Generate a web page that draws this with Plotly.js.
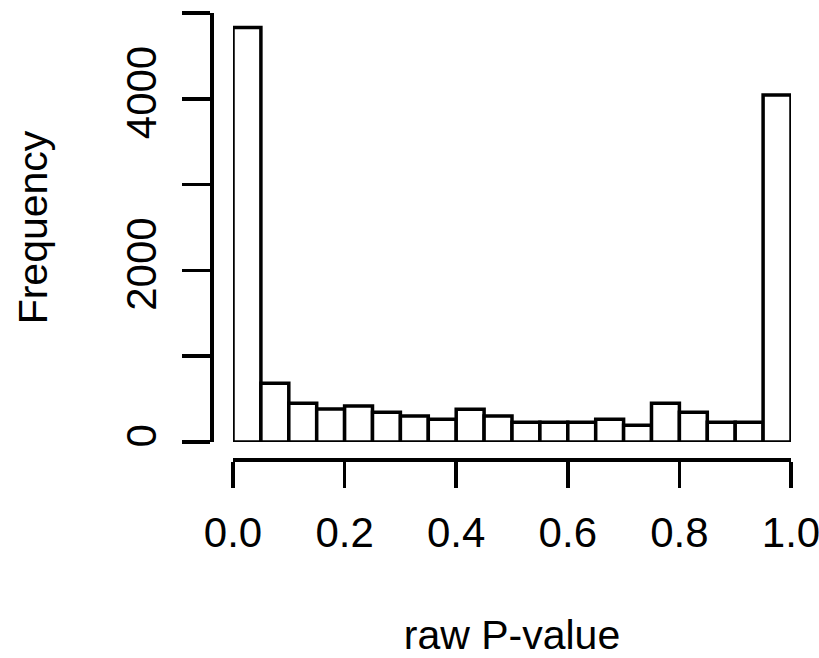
<!DOCTYPE html>
<html>
<head>
<meta charset="utf-8">
<script src="https://cdn.plot.ly/plotly-3.0.1.min.js"></script>
<style>html,body{margin:0;padding:0;background:#fff;}#chart{width:819px;height:658px;}</style>
</head>
<body>
<div id="chart"></div>
<script>
// Histogram of raw P-values: 20 bins of width 0.05 over [0, 1]
const binStarts = [0.00,0.05,0.10,0.15,0.20,0.25,0.30,0.35,0.40,0.45,0.50,0.55,0.60,0.65,0.70,0.75,0.80,0.85,0.90,0.95];
const binWidth = 0.05;
const counts = [4830,685,451,385,420,346,303,265,381,303,230,230,230,265,195,451,346,230,230,4045];
const xTickVals = [0,0.2,0.4,0.6,0.8,1.0];
const xTickText = ['0.0','0.2','0.4','0.6','0.8','1.0'];
const yTickVals = [0,1000,2000,3000,4000,5000];
const yTickText = ['0','','2000','','4000',''];

const fontFam = '"Liberation Sans Narrow","Arial Narrow","Liberation Sans",Arial,sans-serif';

const trace = {
  type: 'bar',
  x: binStarts.map(s => s + binWidth/2),
  y: counts,
  width: binStarts.map(() => binWidth),
  marker: {color: '#ffffff', line: {color: '#000000', width: 3.5}},
  cliponaxis: false,
  hoverinfo: 'x+y'
};

const W = 819, H = 658;
const L = 211, R = 28, T = 13, B = 199;
const pw = W - L - R, ph = H - T - B;

const layout = {
  width: W, height: H,
  margin: {l: L, r: R, t: T, b: B, pad: 0},
  paper_bgcolor: '#ffffff', plot_bgcolor: '#ffffff',
  showlegend: false,
  font: {family: fontFam, color: '#000000', size: 42},
  xaxis: {
    domain: [(233 - L)/pw, 1],
    range: [0, 1],
    anchor: 'free', position: 0,
    showgrid: false, zeroline: false,
    showline: true, linecolor: '#000', linewidth: 3.5,
    ticks: 'outside', ticklen: 26, tickwidth: 3.5, tickcolor: '#000',
    tickvals: xTickVals, ticktext: xTickText,
    tickfont: {family: fontFam, size: 42, color: '#000'},
    ticklabelstandoff: 9,
    ticklabeloverflow: 'allow',
    title: {text: 'raw P-value', font: {family: fontFam, size: 41, color: '#000'}, standoff: 68},
    automargin: false
  },
  yaxis: {
    domain: [(459 - 442)/ph, 1],
    range: [0, 5000],
    anchor: 'free', position: 0,
    showgrid: false, zeroline: false,
    showline: true, linecolor: '#000', linewidth: 3.5,
    ticks: 'outside', ticklen: 28, tickwidth: 3.5, tickcolor: '#000',
    tickvals: yTickVals, ticktext: yTickText,
    tickangle: -90,
    tickfont: {family: fontFam, size: 42, color: '#000'},
    ticklabelstandoff: 9,
    ticklabeloverflow: 'allow',
    title: {text: 'Frequency', font: {family: fontFam, size: 41, color: '#000'}, standoff: 56},
    automargin: false
  }
};

Plotly.newPlot('chart', [trace], layout, {displayModeBar: false, staticPlot: true});
</script>
</body>
</html>
